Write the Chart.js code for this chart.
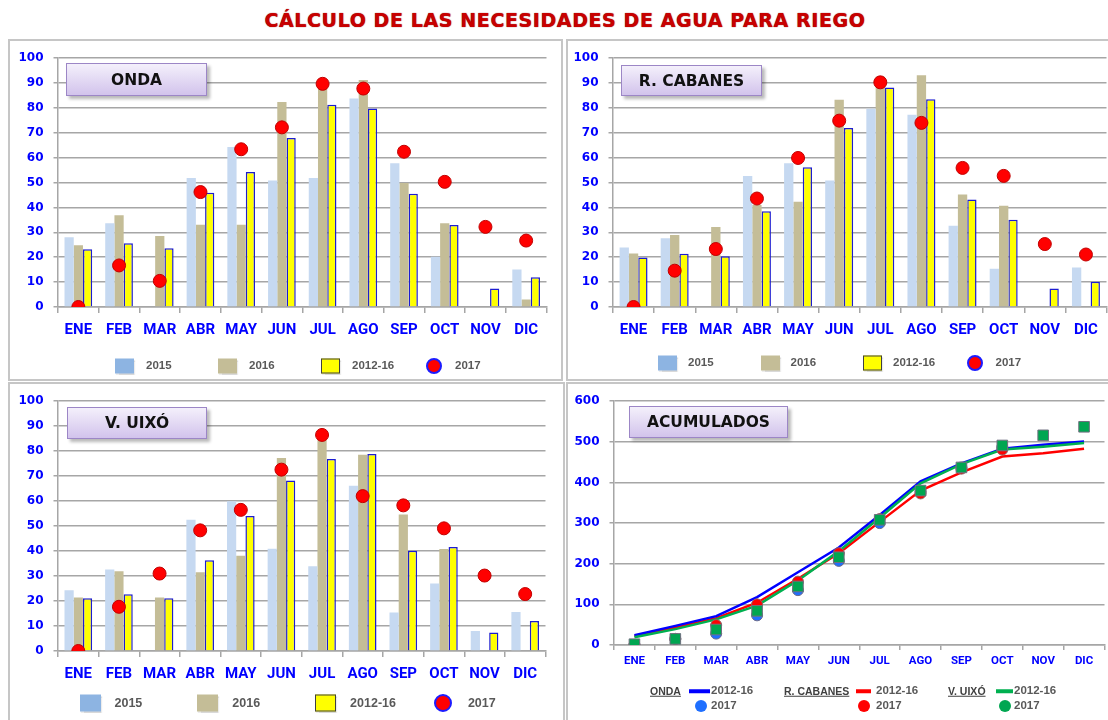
<!DOCTYPE html>
<html><head><meta charset="utf-8">
<script src="https://cdn.jsdelivr.net/npm/chart.js@4.4.0/dist/chart.umd.min.js"></script>
<style>
html,body{margin:0;padding:0;background:#fff;overflow:hidden;width:1108px;height:720px;position:relative;font-family:"Liberation Sans",Arial,sans-serif}
#title{position:absolute;left:0;width:1130px;top:9px;text-align:center;font:bold 19px "DejaVu Sans";letter-spacing:0.6px;color:#c80000;text-shadow:0 0 1px #700}
.panel{position:absolute;border:2px solid #c6c6c6;box-sizing:border-box}
canvas{position:absolute}
.tag{position:absolute;box-sizing:border-box;border:1.5px solid #9c86c6;background:linear-gradient(#f4f0fb,#d2c3ec);box-shadow:3px 3px 3px rgba(0,0,0,.28);font:bold 15.5px "DejaVu Sans";color:#111;display:flex;align-items:center;justify-content:center;z-index:2}
.lg{position:absolute;z-index:2;font:bold 11.5px "Liberation Sans";color:#595959;white-space:nowrap;line-height:1;transform:translateY(-50%)}
.sym{position:absolute;z-index:2;box-sizing:border-box;transform:translateY(-50%)}
</style></head>
<body>
<div id="title">CÁLCULO DE LAS NECESIDADES DE AGUA PARA RIEGO</div>
<div class="panel" style="left:8px;top:39px;width:555px;height:342px"></div>
<div class="panel" style="left:566px;top:39px;width:544px;height:342px"></div>
<div class="panel" style="left:8px;top:382px;width:557px;height:340px"></div>
<div class="panel" style="left:566px;top:382px;width:544px;height:340px"></div>
<canvas id="c1"></canvas><canvas id="c2"></canvas><canvas id="c3"></canvas><canvas id="c4"></canvas>
<div class="tag" style="left:66px;top:63px;width:141px;height:33px">ONDA</div>
<div class="tag" style="left:621px;top:65px;width:141px;height:31px">R. CABANES</div>
<div class="tag" style="left:67px;top:407px;width:140px;height:32px">V. UIXÓ</div>
<div class="tag" style="left:629px;top:406px;width:159px;height:32px">ACUMULADOS</div>
<script>
const months = ['ENE','FEB','MAR','ABR','MAY','JUN','JUL','AGO','SEP','OCT','NOV','DIC'];
const seriesNames = ['2015','2016','2012-16','2017'];
const stations = ['ONDA','R. CABANES','V. UIXÓ'];

const onda2015 = [28, 33.7, null, 51.8, 64.3, 50.8, 51.8, 83.8, 57.8, 20.2, null, 15.1];
const onda2016 = [24.8, 36.9, 28.5, 33.1, 33.1, 82.4, 89.5, 91.2, 49.8, 33.7, null, 3.0];
const onda1216 = [23.2, 25.6, 23.6, 45.9, 54.3, 67.9, 81.3, 79.8, 45.5, 33.0, 7.4, 12.0];
const onda2017 = [0, 16.7, 10.5, 46.2, 63.4, 72.2, 89.7, 87.8, 62.4, 50.3, 32.2, 26.7];

const cab2015 = [23.9, 27.6, null, 52.7, 57.8, 50.8, 79.7, 77.3, 32.7, 15.4, null, 15.9];
const cab2016 = [21.5, 28.9, 32.2, 41.0, 42.3, 83.3, 92.5, 93.1, 45.2, 40.7, null, null];
const cab1216 = [19.9, 21.4, 20.4, 38.5, 56.2, 71.9, 88.2, 83.5, 43.2, 35.1, 7.4, 10.1];
const cab2017 = [0, 14.6, 23.3, 43.6, 59.9, 74.9, 90.3, 74.0, 55.9, 52.7, 25.3, 21.1];

const uixo2015 = [24.3, 32.6, null, 52.5, 59.9, 40.9, 33.9, 66.2, 15.4, 27.0, 8.0, 15.6];
const uixo2016 = [21.4, 31.9, 21.4, 31.5, 38.1, 77.3, 85.0, 78.6, 54.6, 40.8, null, null];
const uixo1216 = [21.1, 22.7, 21.1, 36.3, 54.0, 68.3, 76.9, 78.9, 40.1, 41.6, 7.4, 12.0];
const uixo2017 = [0, 17.7, 31.0, 48.3, 56.5, 72.6, 86.5, 62.0, 58.3, 49.1, 30.2, 22.8];

const acuOnda1216 = [24, 47, 71, 118, 179, 240, 320, 403, 447, 483, 493, 501];
const acuCab1216 = [22, 43, 66, 104, 163, 226, 303, 380, 425, 464, 472, 483];
const acuUixo1216 = [19, 39, 63, 97, 159, 231, 313, 398, 445, 481, 488, 497];
const acuOnda2017 = [0, 15, 28, 73, 135, 207, 300, 378, 437, 487, null, null];
const acuCab2017 = [0, 15, 49, 100, 156, 226, 310, 373, 434, 481, null, null];
const acuUixo2017 = [2, 15, 38, 84, 144, 216, 308, 380, 437, 491, 516, 537];

const GRID = '#a6a6a6', BLUE = '#0000ff';

function setupCanvas(id, g){
  const cv = document.getElementById(id);
  cv.width = g.R + 6 - g.cx; cv.height = g.cb - g.cy;
  cv.style.left = g.cx + 'px'; cv.style.top = g.cy + 'px';
  return cv;
}

function axes(g, cv, max, step, xsize, xtl, xpad){
  return {
    x:{ offset:true, afterFit:s=>{ s.height = cv.height - (g.B - g.cy); },
        grid:{offset:true, drawOnChartArea:false, tickLength:xtl, color:GRID, lineWidth:1.5},
        border:{color:GRID, width:1.5},
        ticks:{color:BLUE, padding:xpad, maxRotation:0, font:{family:'Roboto', weight:'bold', size:xsize}} },
    y:{ min:0, max:max, afterFit:s=>{ s.width = g.L - g.cx; },
        ticks:{stepSize:step, color:BLUE, padding:10, font:{family:'DejaVu Sans', weight:'bold', size:12}},
        grid:{color:GRID, lineWidth:1.5, tickLength:4.5},
        border:{color:GRID, width:1.5} }
  };
}

function barChart(id, g, v2015, v2016, v1216, v2017){
  const cv = setupCanvas(id, g);
  new Chart(cv, {
    type:'bar',
    data:{ labels:months, datasets:[
      {label:seriesNames[0], data:v2015, backgroundColor:'#c6d9f1', order:1},
      {label:seriesNames[1], data:v2016, backgroundColor:'#c4bd97', order:1},
      {label:seriesNames[2], data:v1216, backgroundColor:'#ffff00', borderColor:'#1c1cd0', borderWidth:1.5, order:1},
      {type:'line', label:seriesNames[3], data:v2017, showLine:false, pointRadius:6.5,
       pointBackgroundColor:'#ff0000', pointBorderColor:'#c00000', pointBorderWidth:1, order:0}
    ]},
    options:{
      responsive:false, animation:false, devicePixelRatio:1,
      datasets:{bar:{categoryPercentage:0.68, barPercentage:1}},
      layout:{padding:{left:0, top:g.T - g.cy, right:6, bottom:0}},
      plugins:{legend:{display:false}, tooltip:{enabled:false}},
      scales: axes(g, cv, 100, 10, 15, 6, 8)
    }
  });
}

function barLegend(x0, yc, step, bw, bh, dia, txtOff, size){
  const fills = ['#8db4e2', '#c4bd97', '#ffff00'];
  seriesNames.forEach((name, i) => {
    const x = x0 + i * step;
    const s = document.createElement('div');
    s.className = 'sym';
    if (i < 3) {
      s.style.cssText = `left:${x}px;top:${yc}px;width:${bw}px;height:${bh}px;background:${fills[i]};` +
        (i === 2 ? 'border:1.5px solid #404040;' : '') + 'box-shadow:1px 1px 1px rgba(0,0,0,.15)';
    } else {
      s.style.cssText = `left:${x + bw/2 - dia/2}px;top:${yc}px;width:${dia}px;height:${dia}px;border-radius:50%;background:#ff0000;border:2.5px solid #1c1cff`;
    }
    document.body.appendChild(s);
    const t = document.createElement('div');
    t.className = 'lg';
    t.style.cssText = `left:${x + txtOff}px;top:${yc}px;font-size:${size}px`;
    t.textContent = name;
    document.body.appendChild(t);
  });
}

barChart('c1', {cx:10, cy:41, L:58, T:56, R:548, B:307, cb:379}, onda2015, onda2016, onda1216, onda2017);
barChart('c2', {cx:568, cy:41, L:613, T:56, R:1108, B:307, cb:379}, cab2015, cab2016, cab1216, cab2017);
barChart('c3', {cx:10, cy:384, L:58, T:399, R:547, B:651, cb:720}, uixo2015, uixo2016, uixo1216, uixo2017);

barLegend(115, 366, 103, 19, 15, 16, 31, 11.5);
barLegend(658, 362.5, 102.5, 19, 15, 16, 30, 11.5);
barLegend(79.5, 703, 117.8, 21, 17, 18, 35, 12.5);

// acumulados
const g4 = {cx:568, cy:384, L:614, T:400, R:1107, B:645, cb:720};
const cv4 = setupCanvas('c4', g4);
const lineColors = ['#0000ff', '#ff0000', '#00b050'];
const dotColors = ['#1f6fff', '#ff0000', '#00a651'];
new Chart(cv4, {
  type:'line',
  data:{ labels:months, datasets:[
    {label:stations[0] + ' 2012-16', data:acuOnda1216, borderColor:lineColors[0], borderWidth:2.5, pointRadius:0, order:5},
    {label:stations[1] + ' 2012-16', data:acuCab1216, borderColor:lineColors[1], borderWidth:2.5, pointRadius:0, order:6},
    {label:stations[2] + ' 2012-16', data:acuUixo1216, borderColor:lineColors[2], borderWidth:2.5, pointRadius:0, order:4},
    {label:stations[0] + ' 2017', data:acuOnda2017, showLine:false, pointRadius:5.5, pointBackgroundColor:dotColors[0], pointBorderColor:'#6a6a8a', pointBorderWidth:1, order:3},
    {label:stations[1] + ' 2017', data:acuCab2017, showLine:false, pointRadius:5.5, pointBackgroundColor:dotColors[1], pointBorderColor:'#8a6a6a', pointBorderWidth:1, order:2},
    {label:stations[2] + ' 2017', data:acuUixo2017, showLine:false, pointStyle:'rect', pointRadius:7.5, pointBackgroundColor:dotColors[2], pointBorderColor:'#707080', pointBorderWidth:1, order:1}
  ]},
  options:{
    responsive:false, animation:false, devicePixelRatio:1,
    layout:{padding:{left:0, top:g4.T - g4.cy, right:6, bottom:0}},
    plugins:{legend:{display:false}, tooltip:{enabled:false}},
    scales: axes(g4, cv4, 600, 100, 11.5, 5, 4)
  }
});

// legend of acumulados
const acuLeg = [
  {nameX:650, lineX:689, lineW:21, txtX:711, dotX:700.5},
  {nameX:784, lineX:856, lineW:15, txtX:876, dotX:864},
  {nameX:948, lineX:996, lineW:17, txtX:1014, dotX:1005}
];
stations.forEach((st, i) => {
  const p = acuLeg[i];
  const n = document.createElement('div');
  n.className = 'lg';
  n.style.cssText = `left:${p.nameX}px;top:691px;font-size:10.5px;color:#404040;text-decoration:underline`;
  n.textContent = st;
  document.body.appendChild(n);
  const l = document.createElement('div');
  l.className = 'sym';
  l.style.cssText = `left:${p.lineX}px;top:691px;width:${p.lineW}px;height:3.5px;background:${lineColors[i]}`;
  document.body.appendChild(l);
  const t1 = document.createElement('div');
  t1.className = 'lg';
  t1.style.cssText = `left:${p.txtX}px;top:691px`;
  t1.textContent = '2012-16';
  document.body.appendChild(t1);
  const d = document.createElement('div');
  d.className = 'sym';
  d.style.cssText = `left:${p.dotX - 6}px;top:705.5px;width:12px;height:12px;border-radius:50%;background:${dotColors[i]}`;
  document.body.appendChild(d);
  const t2 = document.createElement('div');
  t2.className = 'lg';
  t2.style.cssText = `left:${p.txtX}px;top:705.5px`;
  t2.textContent = '2017';
  document.body.appendChild(t2);
});
</script>
</body></html>
